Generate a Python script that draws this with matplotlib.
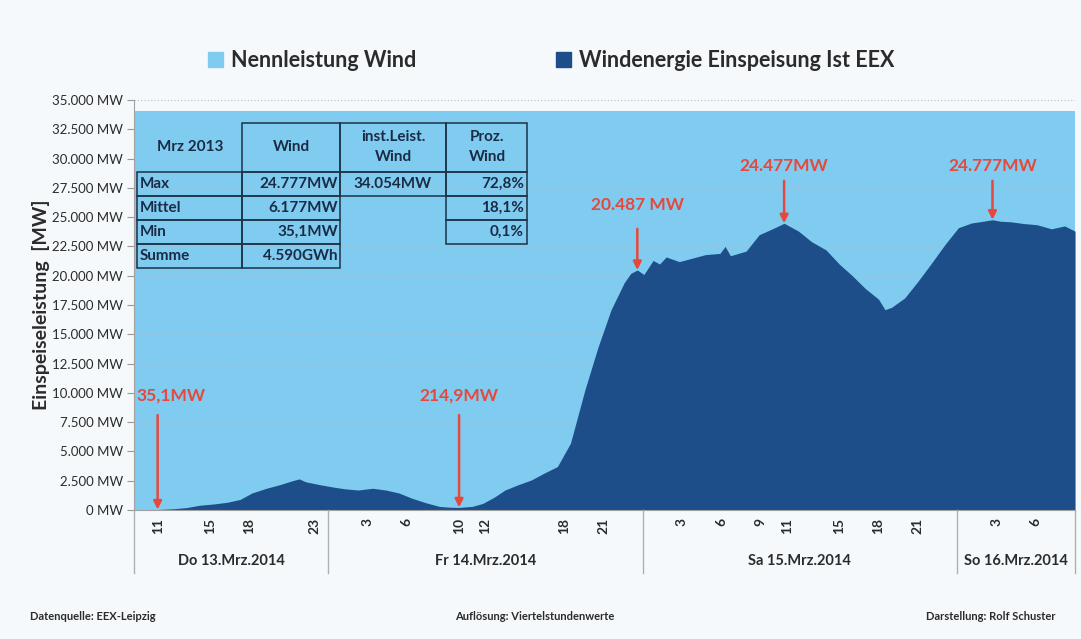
import numpy as np
import matplotlib.pyplot as plt
from matplotlib.patches import Patch, Rectangle
from matplotlib.ticker import FuncFormatter, MultipleLocator

plt.rcParams['font.family'] = ['Lato', 'DejaVu Sans']

# hours counted from Do 13.Mrz 00:00, feed-in in MW
hours = [9.2, 10.2, 11.0, 12.2, 13.2, 14.2, 15.2, 16.3, 17.3, 18.2, 19.3, 20.3,
         21.3, 21.8, 22.3, 23.4, 24.4, 25.3, 26.3, 27.4, 28.4, 29.4, 30.4,
         31.5, 32.5, 33.3, 34.0, 35.0, 35.8, 36.7, 37.5, 38.5, 39.5, 40.5,
         41.5, 42.5, 43.6, 44.6, 45.6, 46.6, 47.1, 47.6, 48.1, 48.8, 49.3,
         49.8, 50.8, 51.8, 52.8, 53.9, 54.3, 54.7, 55.9, 56.9, 57.9, 58.8,
         59.9, 60.9, 62.0, 63.0, 64.0, 65.0, 66.0, 66.5, 67.0, 68.0, 69.0,
         70.0, 71.1, 72.1, 73.1, 74.0, 74.7, 75.3, 76.1, 77.1, 78.1, 79.2,
         80.2, 81.0]
wind_mw = [0, 0, 35, 100, 200, 400, 500, 650, 900, 1450, 1850, 2150,
           2500, 2650, 2400, 2150, 1950, 1800, 1700, 1850, 1700, 1450, 1000,
           600, 300, 230, 215, 300, 550, 1100, 1700, 2150, 2550, 3150,
           3700, 5700, 10250, 13900, 17100, 19400, 20200, 20487, 20100, 21300, 21000,
           21600, 21200, 21500, 21800, 21900, 22500, 21700, 22100, 23500, 24000, 24477,
           23800, 22900, 22200, 21000, 20000, 18900, 18000, 17100, 17300, 18100, 19500,
           21000, 22700, 24100, 24500, 24650, 24777, 24650, 24600, 24450, 24350, 24000,
           24250, 23800]
nennleistung_mw = 34054

# x-axis: hour labels and days
tick_hours = [11, 15, 18, 23, 27, 30, 34, 36, 42, 45, 51, 54, 57, 59, 63, 66, 69, 75, 78]
tick_labels = ['11', '15', '18', '23', '3', '6', '10', '12', '18', '21',
               '3', '6', '9', '11', '15', '18', '21', '3', '6']
day_bounds = [24, 48, 72]
day_labels = ['Do 13.Mrz.2014', 'Fr 14.Mrz.2014', 'Sa 15.Mrz.2014', 'So 16.Mrz.2014']

# annotations: (label, hour, value)
notes = [('35,1MW', 11.0, 35.1), ('214,9MW', 34.0, 214.9), ('20.487 MW', 47.6, 20487),
         ('24.477MW', 58.8, 24477), ('24.777MW', 74.7, 24777)]

table_rows = [['Max', '24.777MW', '34.054MW', '72,8%'],
              ['Mittel', '6.177MW', '', '18,1%'],
              ['Min', '35,1MW', '', '0,1%'],
              ['Summe', '4.590GWh', '', '']]

light = '#80ccf1'
dark = '#1d4e89'
red = '#e5483d'
bg = '#f6f9fb'
txt = '#2b2b2b'

fig = plt.figure(figsize=(10.81, 6.39), dpi=100, facecolor=bg)
ax = fig.add_axes([0.124, 0.202, 0.8705, 0.6415])
ax.set_facecolor(bg)

ax.fill_between([hours[0], hours[-1]], 0, nennleistung_mw, color=light, lw=0, zorder=1)
ax.fill_between(hours, 0, wind_mw, color=dark, lw=0, zorder=2)

ax.set_xlim(hours[0], hours[-1])
ax.set_ylim(0, 35000)
ax.yaxis.set_major_locator(MultipleLocator(2500))
ax.yaxis.set_major_formatter(FuncFormatter(lambda v, p: f'{int(v):,} MW'.replace(',', '.')))
ax.set_axisbelow('line')
ax.yaxis.grid(True, color='#a9bfcf', lw=0.8, ls=(0, (1, 2)))
ax.tick_params(axis='y', length=5, color='#999999', labelsize=9.5, labelcolor=txt, pad=3)
ax.set_xticks(tick_hours)
ax.set_xticklabels(tick_labels, rotation=90, fontsize=10, fontweight='bold', color=txt)
ax.tick_params(axis='x', length=0, pad=6)
for s in ['top', 'right']:
    ax.spines[s].set_visible(False)
for s in ['left', 'bottom']:
    ax.spines[s].set_color('#a0a0a0')
ax.set_ylabel('Einspeiseleistung  [MW]', fontsize=14, fontweight='bold', color=txt)
ax.yaxis.set_label_coords(-0.089, 0.5)

# day separators and labels under the axis
edges = [hours[0]] + day_bounds + [hours[-1]]
trans = ax.get_xaxis_transform()
for e in edges:
    ax.plot([e, e], [0, -0.155], transform=trans, color='#b0b0b0', lw=1, clip_on=False)
for i, lab in enumerate(day_labels):
    ax.text((edges[i] + edges[i + 1]) / 2, -0.125, lab, transform=trans, ha='center',
            va='center', fontsize=10.5, fontweight='bold', color=txt)

# red annotations
for lab, h, v in notes:
    if v < 1000:
        ty, ay = 9800, 8100
    elif v < 21000:
        ty, ay = 26000, 24000
    else:
        ty, ay = 29400, 28100
    ax.text(h + (1.0 if v < 100 else 0), ty, lab, ha='center', va='center', color=red,
            fontsize=12.5, fontweight='bold', zorder=5)
    ax.annotate('', xy=(h, v), xytext=(h, ay),
                arrowprops=dict(arrowstyle='-|>', color=red, lw=1.8, mutation_scale=12,
                                shrinkA=0, shrinkB=0), zorder=5)

# statistics table (figure pixel positions)
W, H = 1081, 639
def fx(x):
    return x / W
def fy(y):
    return 1 - y / H
col_x = [137, 242, 340, 446, 527]
row_y = [123, 172, 196, 220, 244, 268]
edge = '#1c3347'
tc = '#1a2c45'
def cell(c, r0, r1):
    fig.add_artist(Rectangle((fx(col_x[c]), fy(row_y[r1])), fx(col_x[c + 1]) - fx(col_x[c]),
                             fy(row_y[r0]) - fy(row_y[r1]), fill=False, ec=edge, lw=1.1,
                             transform=fig.transFigure, zorder=6))
for c in [1, 2, 3]:
    cell(c, 0, 1)
for r in range(4):
    cell(0, r + 1, r + 2)
    cell(1, r + 1, r + 2)
cell(2, 1, 2)
for r in range(3):
    cell(3, r + 1, r + 2)
fig.text(fx(190), fy(147), 'Mrz 2013', ha='center', va='center', fontsize=11,
         fontweight='bold', color=tc)
fig.text(fx(291), fy(147), 'Wind', ha='center', va='center', fontsize=11,
         fontweight='bold', color=tc)
fig.text(fx(393), fy(147), 'inst.Leist.\nWind', ha='center', va='center', fontsize=11,
         fontweight='bold', color=tc, linespacing=1.5)
fig.text(fx(487), fy(147), 'Proz.\nWind', ha='center', va='center', fontsize=11,
         fontweight='bold', color=tc, linespacing=1.5)
for r, row in enumerate(table_rows):
    yc = fy((row_y[r + 1] + row_y[r + 2]) / 2)
    fig.text(fx(140), yc, row[0], ha='left', va='center', fontsize=11, fontweight='bold', color=tc)
    fig.text(fx(338), yc, row[1], ha='right', va='center', fontsize=11, fontweight='bold', color=tc)
    fig.text(fx(393), yc, row[2], ha='center', va='center', fontsize=11, fontweight='bold', color=tc)
    fig.text(fx(524), yc, row[3], ha='right', va='center', fontsize=11, fontweight='bold', color=tc)

# legend
handles = [Patch(color=light), Patch(color=dark)]
fig.legend(handles, ['Nennleistung Wind', 'Windenergie Einspeisung Ist EEX'], loc='center',
           bbox_to_anchor=(0.51, 0.905), ncol=2, frameon=False, handlelength=0.7,
           handleheight=0.7, handletextpad=0.35, columnspacing=6.5,
           prop={'size': 15.5, 'weight': 'bold'}, labelcolor=txt)

# footer
fig.text(fx(30), fy(616), 'Datenquelle: EEX-Leipzig', ha='left', va='center', fontsize=8,
         fontweight='bold', color=txt)
fig.text(fx(535), fy(616), 'Auflösung: Viertelstundenwerte', ha='center', va='center',
         fontsize=8, fontweight='bold', color=txt)
fig.text(fx(1055), fy(616), 'Darstellung: Rolf Schuster', ha='right', va='center',
         fontsize=8, fontweight='bold', color=txt)

fig.savefig('out.png', dpi=100, facecolor=bg)
